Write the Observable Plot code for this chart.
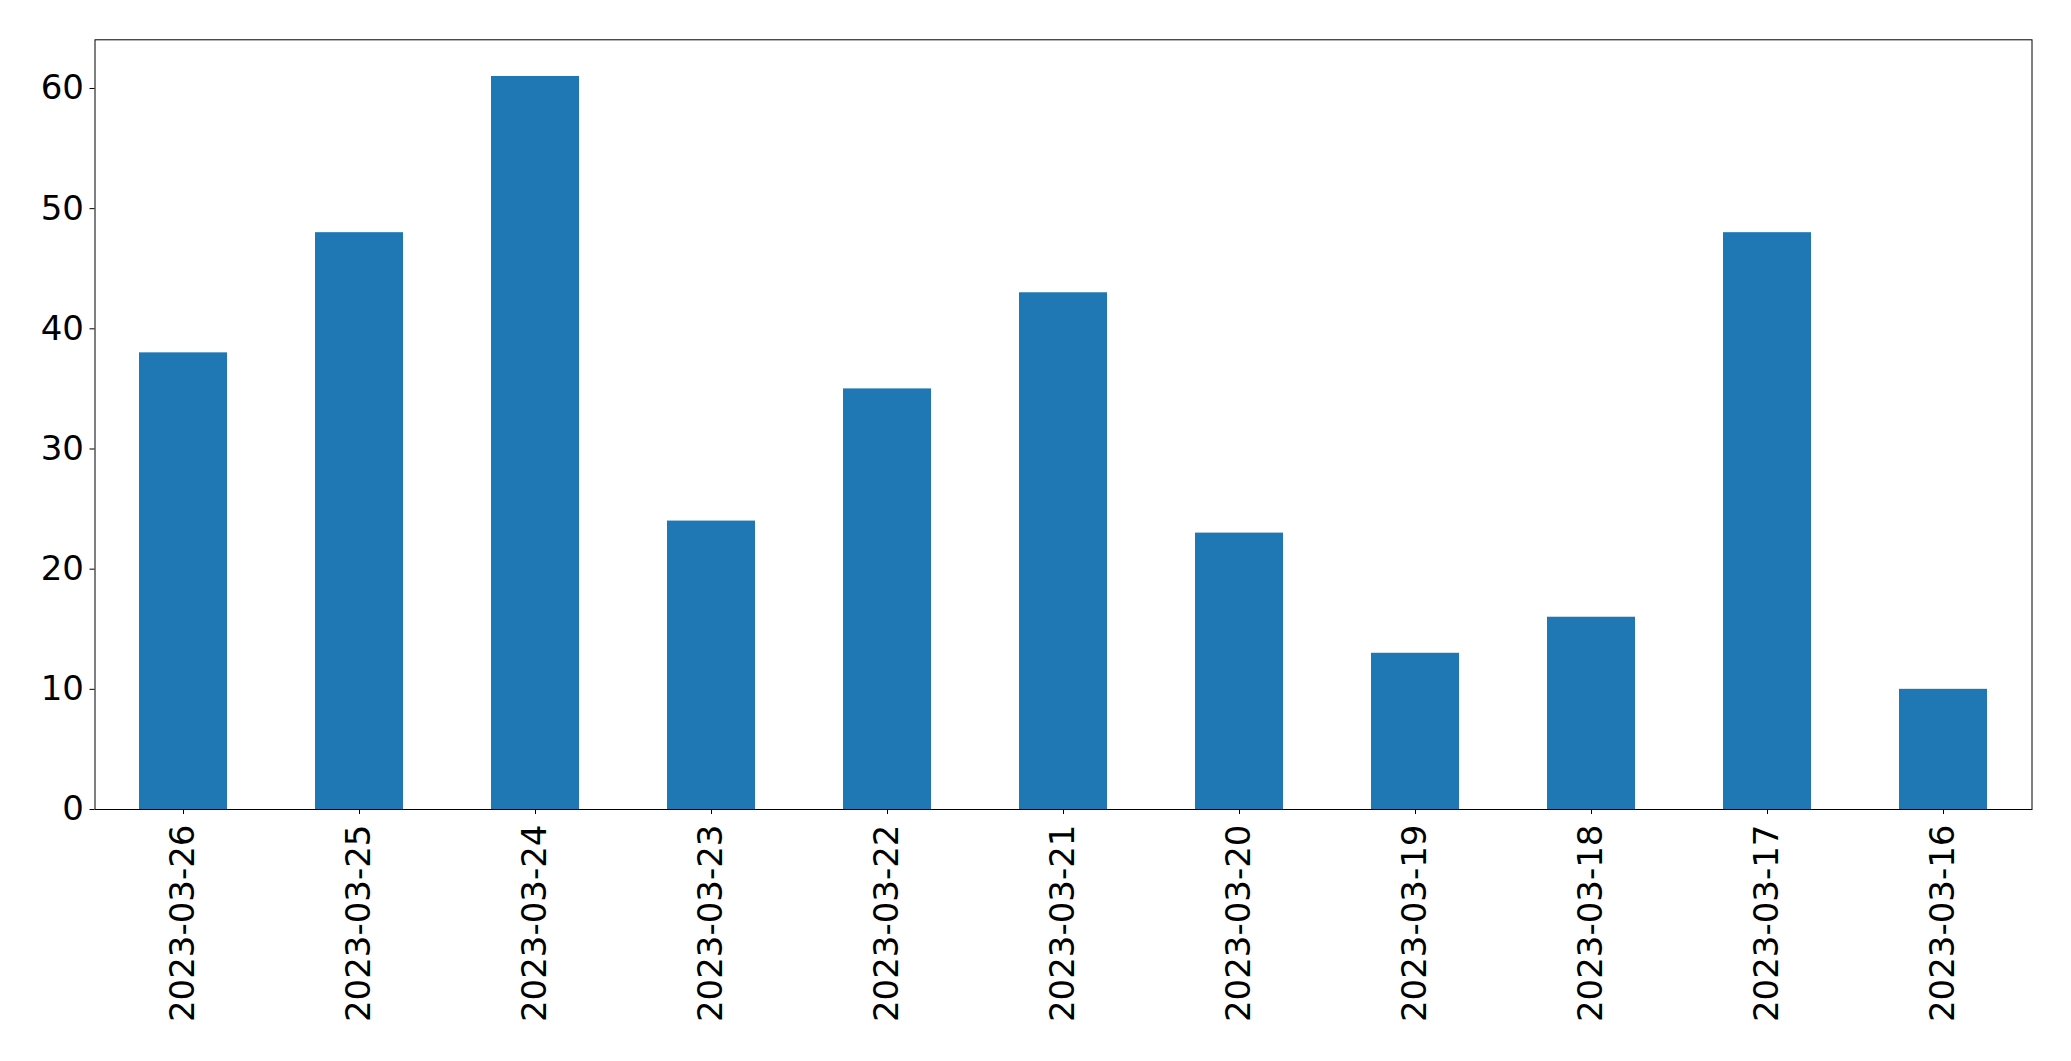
<!DOCTYPE html>
<html>
<head>
<meta charset="utf-8">
<script src="https://cdn.jsdelivr.net/npm/d3@7"></script>
<script src="https://cdn.jsdelivr.net/npm/@observablehq/plot@0.6"></script>
<style>
  html, body { margin: 0; padding: 0; background: #fff; }
</style>
</head>
<body>
<div id="chart"></div>
<script>
const dates = ["2023-03-26","2023-03-25","2023-03-24","2023-03-23","2023-03-22","2023-03-21","2023-03-20","2023-03-19","2023-03-18","2023-03-17","2023-03-16"];
const counts = [38, 48, 61, 24, 35, 43, 23, 13, 16, 48, 10];
const yTicks = [0, 10, 20, 30, 40, 50, 60];

const data = dates.map((d, i) => ({date: d, count: counts[i]}));

const chart = Plot.plot({
  width: 2071,
  height: 1061,
  marginLeft: 94.5,
  marginRight: 39.5,
  marginTop: 39.3,
  marginBottom: 252,
  style: {fontFamily: "DejaVu Sans", fontSize: "34px", color: "black", background: "white"},
  x: {type: "band", domain: dates, paddingInner: 0.5, paddingOuter: 0.25, label: null},
  y: {domain: [0, 64.05], label: null},
  marks: [
    Plot.barY(data, {x: "date", y: "count", fill: "#1f77b4"}),
    Plot.axisY({ticks: yTicks, tickSize: 5, tickPadding: 6, fontSize: 34, label: null, tickFormat: d => String(d)}),
    Plot.axisX({tickSize: 5, tickPadding: 10, tickRotate: -90, fontSize: 34, label: null}),
    Plot.frame({stroke: "black", strokeWidth: 1})
  ]
});
document.getElementById("chart").appendChild(chart);
</script>
</body>
</html>
